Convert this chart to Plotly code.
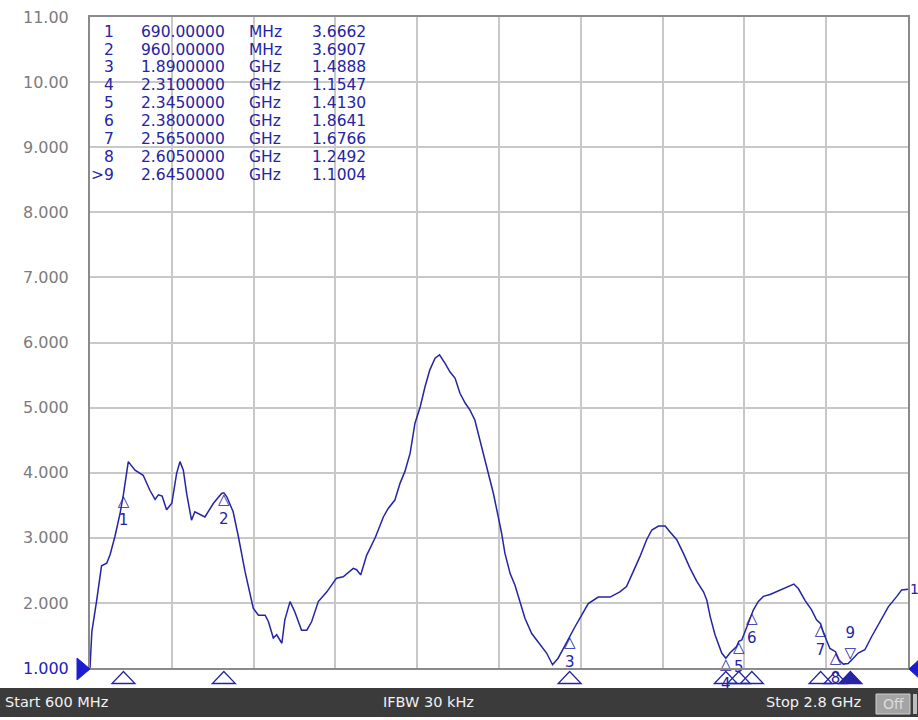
import plotly.graph_objects as go

# ---------------- data ----------------
freq_mhz = [600, 605, 618, 627, 631, 645, 654, 667, 681, 690, 703, 721, 743, 761, 775, 784, 794,
            806, 820, 833, 842, 851, 860, 873, 882, 909, 932, 954, 960, 968, 985, 999, 1017, 1039,
            1053, 1071, 1080, 1093, 1102, 1116, 1124, 1138, 1151, 1169, 1183, 1196, 1214, 1237,
            1263, 1281, 1308, 1317, 1328, 1344, 1367, 1389, 1402, 1420, 1434, 1447, 1461, 1474,
            1488, 1501, 1514, 1528, 1540, 1555, 1568, 1582, 1595, 1609, 1622, 1635, 1644, 1658,
            1671, 1685, 1698, 1707, 1716, 1730, 1743, 1757, 1770, 1788, 1806, 1828, 1844, 1859,
            1878, 1890, 1904, 1922, 1940, 1967, 1999, 2025, 2043, 2061, 2079, 2097, 2111, 2129,
            2147, 2160, 2178, 2196, 2214, 2232, 2250, 2259, 2268, 2281, 2299, 2310, 2321, 2339,
            2345, 2353, 2366, 2380, 2384, 2397, 2411, 2429, 2442, 2460, 2478, 2493, 2505, 2523,
            2541, 2554, 2565, 2572, 2590, 2605, 2615, 2626, 2639, 2645, 2653, 2666, 2684, 2702,
            2725, 2747, 2770, 2783, 2800]
swr = [1.00, 1.56, 2.04, 2.46, 2.57, 2.61, 2.74, 3.02, 3.38, 3.67, 4.17, 4.04, 3.96, 3.73, 3.59,
       3.66, 3.64, 3.43, 3.53, 3.99, 4.17, 4.04, 3.68, 3.27, 3.40, 3.32, 3.53, 3.68, 3.69, 3.63,
       3.40, 3.02, 2.48, 1.92, 1.81, 1.81, 1.71, 1.46, 1.51, 1.38, 1.74, 2.02, 1.86, 1.58, 1.58,
       1.71, 2.02, 2.17, 2.38, 2.40, 2.53, 2.51, 2.43, 2.73, 3.00, 3.32, 3.45, 3.58, 3.84, 4.02,
       4.30, 4.76, 5.01, 5.32, 5.58, 5.76, 5.81, 5.68, 5.55, 5.45, 5.22, 5.07, 4.96, 4.81, 4.61,
       4.30, 3.99, 3.68, 3.32, 3.07, 2.76, 2.45, 2.27, 1.99, 1.76, 1.53, 1.39, 1.23, 1.05, 1.15,
       1.35, 1.49, 1.63, 1.81, 1.99, 2.09, 2.09, 2.17, 2.25, 2.48, 2.71, 2.97, 3.12, 3.18, 3.18,
       3.09, 2.97, 2.76, 2.53, 2.33, 2.17, 2.04, 1.79, 1.51, 1.23, 1.15, 1.23, 1.33, 1.41, 1.43,
       1.63, 1.86, 1.89, 2.02, 2.10, 2.13, 2.16, 2.21, 2.25, 2.29, 2.22, 2.04, 1.89, 1.74, 1.68,
       1.55, 1.30, 1.25, 1.12, 1.06, 1.07, 1.10, 1.15, 1.23, 1.28, 1.48, 1.71, 1.94, 2.10, 2.20,
       2.21]

marker_ids = ["1", "2", "3", "4", "5", "6", "7", "8", "9"]
marker_labels = ["1", "2", "3", "4", "5", "6", "7", "8", ">9"]
marker_freq = [690, 960, 1890, 2310, 2345, 2380, 2565, 2605, 2645]
marker_val = [3.6662, 3.6907, 1.4888, 1.1547, 1.4130, 1.8641, 1.6766, 1.2492, 1.1004]
marker_freq_text = ["690.00000", "960.00000", "1.8900000", "2.3100000", "2.3450000",
                    "2.3800000", "2.5650000", "2.6050000", "2.6450000"]
marker_unit = ["MHz", "MHz", "GHz", "GHz", "GHz", "GHz", "GHz", "GHz", "GHz"]
active_marker = "9"

y_ticks = [1, 2, 3, 4, 5, 6, 7, 8, 9, 10, 11]
y_tick_text = ["1.000", "2.000", "3.000", "4.000", "5.000", "6.000", "7.000", "8.000",
               "9.000", "10.00", "11.00"]

start_text = "Start 600 MHz"
ifbw_text = "IFBW 30 kHz"
stop_text = "Stop 2.8 GHz"

# ---------------- styling ----------------
W, H = 918, 720
L, R, T, B = 90, 908, 17, 668
BLUE = "#2424a4"
GRID = "#c8c8c8"
FONT = "DejaVu Sans"
X0, X1 = 600, 2800


def px(X):
    return (X - L) / (R - L)


def py(Y):
    return (B - Y) / (B - T)


fig = go.Figure()
fig.add_trace(go.Scatter(x=freq_mhz, y=swr, mode="lines",
                         line=dict(color=BLUE, width=1.5), hoverinfo="skip",
                         showlegend=False))

normal = [i for i, m in enumerate(marker_ids) if m != active_marker]
active = [i for i, m in enumerate(marker_ids) if m == active_marker]
fig.add_trace(go.Scatter(
    x=[marker_freq[i] for i in normal], y=[marker_val[i] for i in normal],
    mode="text", text=["△<br>" + marker_ids[i] for i in normal],
    textposition="bottom center", textfont=dict(family=FONT, size=15, color=BLUE),
    cliponaxis=False, showlegend=False, hoverinfo="skip"))
fig.add_trace(go.Scatter(
    x=[marker_freq[i] for i in active], y=[marker_val[i] for i in active],
    mode="text", text=[marker_ids[i] + "<br>▽" for i in active],
    textposition="top center", textfont=dict(family=FONT, size=15, color=BLUE),
    cliponaxis=False, showlegend=False, hoverinfo="skip"))

shapes = []
annotations = []

# marker strip triangles under the grid
dx = 11.5 * (X1 - X0) / (R - L)
for f, m in zip(marker_freq, marker_ids):
    filled = (m == active_marker)
    shapes.append(dict(type="path", xref="x", yref="paper",
                       path=f"M {f - dx},{py(683.5)} L {f + dx},{py(683.5)} L {f},{py(671.5)} Z",
                       line=dict(color=BLUE, width=1.3),
                       fillcolor=BLUE if filled else "rgba(0,0,0,0)"))

# reference level arrows
shapes.append(dict(type="path", xref="paper", yref="paper",
                   path=f"M {px(77)},{py(658)} L {px(77)},{py(680)} L {px(90)},{py(669)} Z",
                   line=dict(color="#1c1cd0", width=1), fillcolor="#1c1cd0"))
shapes.append(dict(type="path", xref="paper", yref="paper",
                   path=f"M {px(922)},{py(657)} L {px(922)},{py(681)} L {px(909)},{py(669)} Z",
                   line=dict(color="#1c1cd0", width=1), fillcolor="#1c1cd0"))

# bottom status bar
shapes.append(dict(type="rect", xref="paper", yref="paper",
                   x0=px(0), x1=px(W), y0=py(717), y1=py(688),
                   line=dict(width=0), fillcolor="#3b3b3b"))
shapes.append(dict(type="rect", xref="paper", yref="paper",
                   x0=px(876), x1=px(910), y0=py(714), y1=py(694),
                   line=dict(color="#cfcfcf", width=1), fillcolor="#a4a4a4"))
shapes.append(dict(type="rect", xref="paper", yref="paper",
                   x0=px(913), x1=px(917), y0=py(714), y1=py(694),
                   line=dict(width=0), fillcolor="#bdbdbd"))

bar_font = dict(family=FONT, size=14.5, color="#f2f2f2")
annotations.append(dict(xref="paper", yref="paper", x=px(3), y=py(702), text=start_text,
                        xanchor="left", yanchor="middle", showarrow=False, font=bar_font))
annotations.append(dict(xref="paper", yref="paper", x=px(428), y=py(702), text=ifbw_text,
                        xanchor="center", yanchor="middle", showarrow=False, font=bar_font))
annotations.append(dict(xref="paper", yref="paper", x=px(863), y=py(702), text=stop_text,
                        xanchor="right", yanchor="middle", showarrow=False, font=bar_font))
annotations.append(dict(xref="paper", yref="paper", x=px(893), y=py(704), text="Off",
                        xanchor="center", yanchor="middle", showarrow=False,
                        font=dict(family=FONT, size=14, color="#dcdcdc")))

# marker table
tfont = dict(family=FONT, size=15.5, color=BLUE)
for i in range(len(marker_ids)):
    yc = py(31.7 + i * 17.9)
    annotations.append(dict(xref="paper", yref="paper", x=px(116), y=yc, text=marker_labels[i],
                            xanchor="right", yanchor="middle", showarrow=False, font=tfont))
    annotations.append(dict(xref="paper", yref="paper", x=px(139), y=yc,
                            text=marker_freq_text[i], xanchor="left", yanchor="middle",
                            showarrow=False, font=tfont))
    annotations.append(dict(xref="paper", yref="paper", x=px(247), y=yc, text=marker_unit[i],
                            xanchor="left", yanchor="middle", showarrow=False, font=tfont))
    annotations.append(dict(xref="paper", yref="paper", x=px(368), y=yc,
                            text=f"{marker_val[i]:.4f}", xanchor="right", yanchor="middle",
                            showarrow=False, font=tfont))

# trace label at right end
annotations.append(dict(xref="x", yref="y", x=freq_mhz[-1], y=swr[-1], text="1",
                        xanchor="left", yanchor="middle", xshift=0, showarrow=False,
                        font=dict(family=FONT, size=14, color=BLUE)))

tick_text = [f'<span style="color:#2020c0">{t}</span>' if v == 1 else t
             for v, t in zip(y_ticks, y_tick_text)]

fig.update_layout(
    width=W, height=H, autosize=False,
    margin=dict(l=L, r=W - R, t=T, b=H - B, pad=0, autoexpand=False),
    paper_bgcolor="white", plot_bgcolor="white",
    showlegend=False,
    xaxis=dict(range=[X0, X1], tick0=X0, dtick=(X1 - X0) / 10, showticklabels=False,
               showgrid=True, gridcolor=GRID, gridwidth=1.5, zeroline=False,
               showline=True, linecolor="#8a8a8a", linewidth=2, mirror=True, ticks=""),
    yaxis=dict(range=[1, 11], tickmode="array", tickvals=y_ticks, ticktext=tick_text,
               showgrid=True, gridcolor=GRID, gridwidth=1.5, zeroline=False,
               showline=True, linecolor="#8a8a8a", linewidth=2, mirror=True, ticks="",
               ticklabelstandoff=16,
               tickfont=dict(family=FONT, size=16, color="#7c7c7c")),
    shapes=shapes, annotations=annotations,
)

fig.write_html("out.html", config={"displayModeBar": False},
               post_script="document.body.style.margin='0';document.body.style.overflow='hidden';")
